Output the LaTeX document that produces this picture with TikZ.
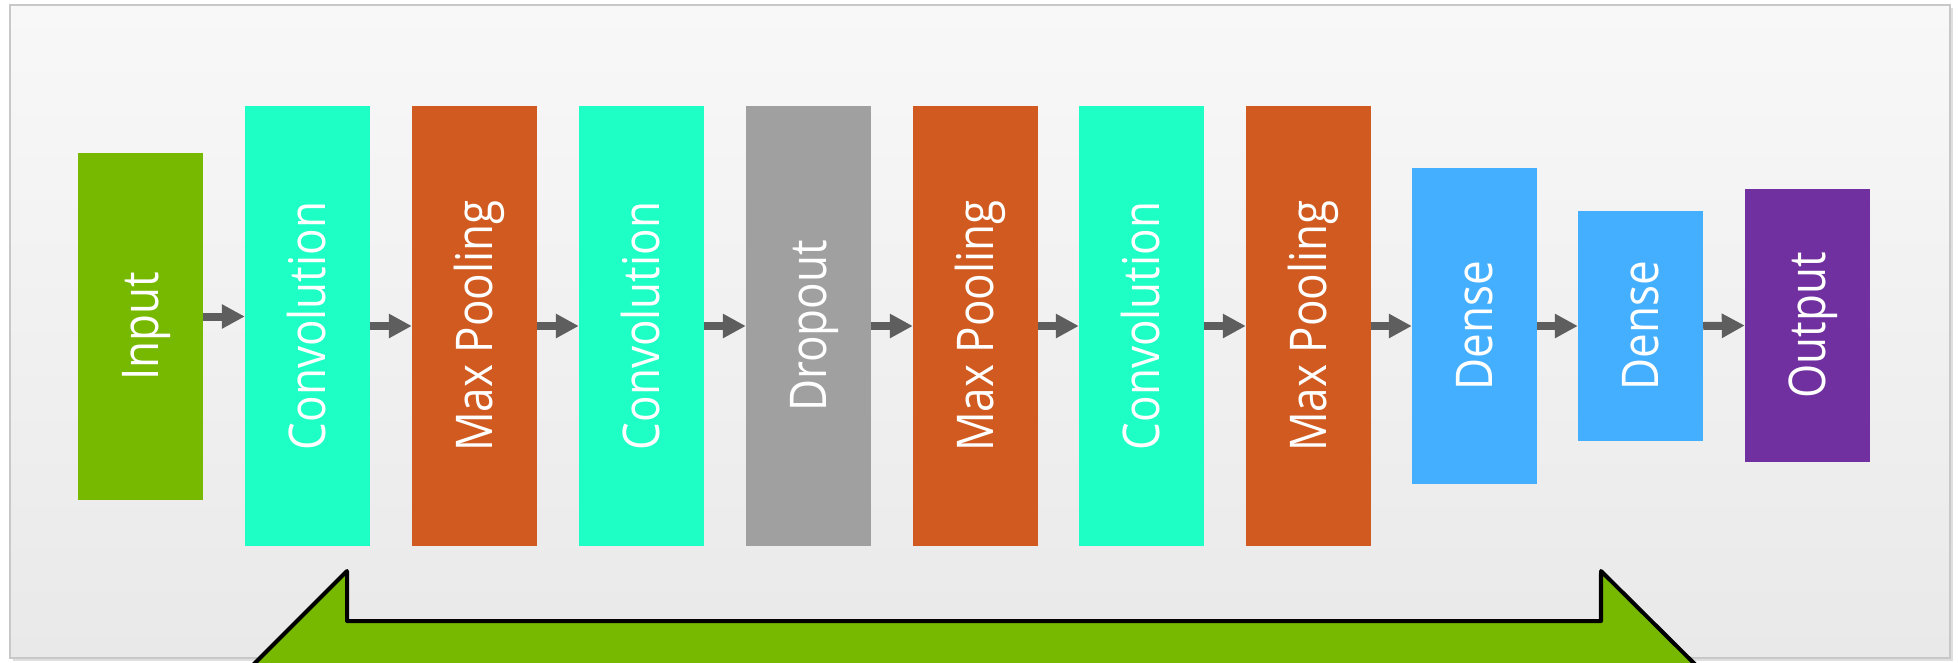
\documentclass[tikz,border=0pt]{standalone}
\usepackage{fontspec}
\usepackage{graphicx}
\setmainfont{Open Sans}
\usetikzlibrary{arrows.meta,shadows}
\definecolor{cin}{HTML}{77B900}
\definecolor{cconv}{HTML}{1EFFC6}
\definecolor{cpool}{HTML}{D05A1F}
\definecolor{cdrop}{HTML}{A0A0A0}
\definecolor{cdense}{HTML}{45AFFF}
\definecolor{cout}{HTML}{70309F}
\definecolor{arrgray}{HTML}{5E5E5E}
\definecolor{frametop}{HTML}{F8F8F8}
\definecolor{framebot}{HTML}{E9E9E9}
\definecolor{frameline}{HTML}{C8C8C8}
\newcommand\lab[1]{\scalebox{1}[1.15]{#1}}
\begin{document}
\begin{tikzpicture}[x=1pt,y=-1pt,
  blk/.style={rectangle, draw=none, inner sep=0pt, minimum width=125pt},
  lbl/.style={rotate=90, text=white, inner sep=0pt, text height=36pt, text depth=0pt, font=\fontsize{44}{50}\selectfont},
  arr/.style={draw=arrgray, line width=8pt, -{Triangle[length=23pt,width=23pt]}},
  greenshape/.style={fill=cin, draw=black, line width=4pt, line join=round,
    drop shadow={shadow xshift=-3pt, shadow yshift=-2pt, opacity=0.25}}]
\useasboundingbox (0,0) rectangle (1959,662);
\clip (0,0) rectangle (1959,662);
\fill[white] (0,0) rectangle (1959,662);
% frame
\draw[draw=frameline, line width=2pt, top color=frametop, bottom color=framebot,
  drop shadow={shadow xshift=3pt, shadow yshift=-3pt, opacity=0.25}]
  (10,5) rectangle (1950,658);
% boxes
\node[blk, fill=cin,    minimum height=347pt] (in) at (140.5,326.5) {};
\node[blk, fill=cconv,  minimum height=440pt] (c1) at (307.5,326) {};
\node[blk, fill=cpool,  minimum height=440pt] (p1) at (474.5,326) {};
\node[blk, fill=cconv,  minimum height=440pt] (c2) at (641.5,326) {};
\node[blk, fill=cdrop,  minimum height=440pt] (dr) at (808.5,326) {};
\node[blk, fill=cpool,  minimum height=440pt] (p2) at (975.5,326) {};
\node[blk, fill=cconv,  minimum height=440pt] (c3) at (1141.5,326) {};
\node[blk, fill=cpool,  minimum height=440pt] (p3) at (1308.5,326) {};
\node[blk, fill=cdense, minimum height=316pt] (d1) at (1474.5,326) {};
\node[blk, fill=cdense, minimum height=230pt] (d2) at (1640.5,326) {};
\node[blk, fill=cout,   minimum height=273pt] (ou) at (1807.5,325.5) {};
% labels
\node[lbl] (tin) at (in) {\lab{Input}};
\node[lbl] (tc1) at (c1) {\lab{Convolution}};
\node[lbl] (tp1) at (p1) {\lab{Max Pooling}};
\node[lbl] (tc2) at (c2) {\lab{Convolution}};
\node[lbl] (tdr) at (dr) {\lab{Dropout}};
\node[lbl] (tp2) at (p2) {\lab{Max Pooling}};
\node[lbl] (tc3) at (c3) {\lab{Convolution}};
\node[lbl] (tp3) at (p3) {\lab{Max Pooling}};
\node[lbl] (td1) at (d1) {\lab{Dense}};
\node[lbl] (td2) at (d2) {\lab{Dense}};
\node[lbl] (tou) at (ou) {\lab{Output}};
% arrows
\draw[arr] ([yshift=10pt]in.east) -- ([yshift=10pt]in.east -| c1.west);
\draw[arr] (c1.east) -- (p1.west);
\draw[arr] (p1.east) -- (c2.west);
\draw[arr] (c2.east) -- (dr.west);
\draw[arr] (dr.east) -- (p2.west);
\draw[arr] (p2.east) -- (c3.west);
\draw[arr] (c3.east) -- (p3.west);
\draw[arr] (p3.east) -- (d1.west);
\draw[arr] (d1.east) -- (d2.west);
\draw[arr] (d2.east) -- (ou.west);
% bottom green shape
\draw[greenshape] (216,702) -- (347,571) -- (347,621) -- (1601,621) -- (1601,571) -- (1733,702) -- cycle;
\end{tikzpicture}
\end{document}
